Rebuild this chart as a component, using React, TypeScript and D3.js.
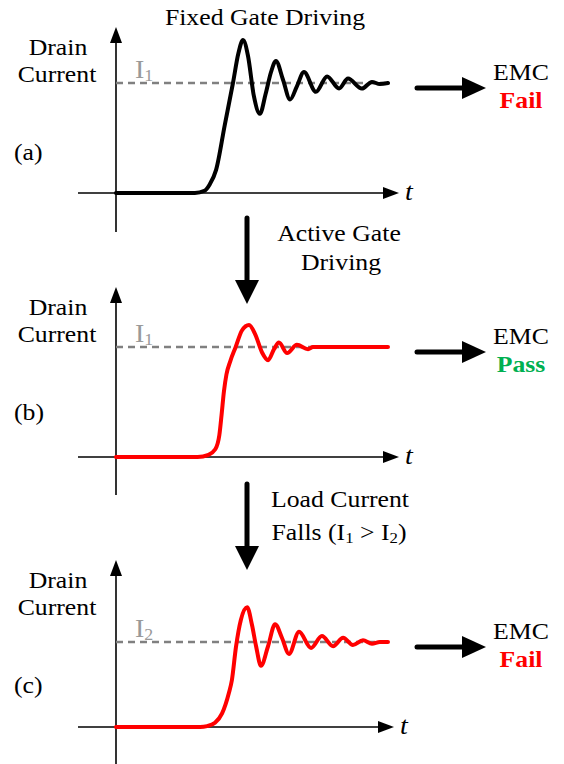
import React from 'react';
import * as d3 from 'd3';

// ---- data (time in arbitrary units 0..100, current normalised to the steady level) ----
const timeA = [0, 29, 32.5, 34.5, 36.8, 40, 43, 45, 46.7, 48.5, 50.7, 52.9, 55, 57, 58.8, 61.4, 64, 66.5, 69.1, 73.5, 77.6, 82, 85.3, 90.4, 94.1, 97, 100];
const currentA = [0, 0, 0.02, 0.08, 0.21, 0.62, 1.0, 1.27, 1.39, 1.25, 0.88, 0.72, 0.9, 1.1, 1.2, 1.03, 0.85, 0.97, 1.1, 0.92, 1.06, 0.95, 1.04, 0.95, 1.01, 0.99, 1.0];

const timeB = [0, 30, 34, 36.5, 38, 38.8, 39.7, 40.6, 42, 44, 46.3, 48.9, 51.1, 53.7, 55.9, 58.1, 59.9, 62.9, 66.5, 70.6, 72.4, 100];
const currentB = [0, 0, 0.02, 0.07, 0.2, 0.38, 0.6, 0.75, 0.87, 1.0, 1.15, 1.2, 1.12, 0.95, 0.88, 0.98, 1.04, 0.945, 1.02, 0.98, 1.0, 1.0];

const timeC = [0, 30.9, 33.5, 36.4, 39, 41.5, 42.6, 44.1, 45.9, 48.2, 50, 51.5, 53.3, 55.9, 58.5, 61, 63.6, 67.3, 71.7, 75.7, 79.8, 83.5, 87.1, 90.8, 94.1, 97, 100];
const currentC = [0, 0, 0.01, 0.05, 0.16, 0.4, 0.55, 0.94, 1.26, 1.41, 1.2, 0.95, 0.72, 0.95, 1.21, 1.05, 0.86, 1.12, 0.93, 1.07, 0.95, 1.05, 0.965, 1.02, 0.98, 1.0, 1.0];

const panelLabels = ['(a)', '(b)', '(c)'];
const levelSubscripts = ['1', '1', '2'];
const verdicts = ['Fail', 'Pass', 'Fail'];
const curveColors = ['#000000', '#ff0000', '#ff0000'];
const verdictColors = ['#ff0000', '#00b050', '#ff0000'];
const headerLines = [['Fixed Gate Driving'], ['Active Gate', 'Driving'], ['Load Current', 'Falls (I', '1', ' > I', '2', ')']];

// ---- layout ----
const W = 564;
const H = 764;
const FONT = "'Liberation Serif', 'Times New Roman', Times, serif";
const SX = 1.12;

const layouts = [
  { xAxisY: 193, levelY: 83, yTop: 27, yBottom: 232, xEnd: 399 },
  { xAxisY: 457, levelY: 347, yTop: 287, yBottom: 495, xEnd: 399 },
  { xAxisY: 727, levelY: 642, yTop: 560, yBottom: 764, xEnd: 394 },
];
const series = [
  { t: timeA, v: currentA },
  { t: timeB, v: currentB },
  { t: timeC, v: currentC },
];

const AXIS_X = 116;
const X_START = 78;

function Label({ x, y, anchor = 'middle', size = 23, fill = '#000', weight = 'normal', italic = false, children }: any) {
  return (
    <text
      transform={`translate(${x},${y}) scale(${SX},1)`}
      textAnchor={anchor}
      style={{
        fontFamily: FONT,
        fontSize: size,
        fontWeight: weight,
        fontStyle: italic ? 'italic' : 'normal',
      }}
      fill={fill}
    >
      {children}
    </text>
  );
}

function Panel({ i }: { i: number }) {
  const L = layouts[i];
  const x = d3.scaleLinear().domain([0, 100]).range([AXIS_X, 388]);
  const y = d3.scaleLinear().domain([0, 1]).range([L.xAxisY, L.levelY]);
  const data = series[i].t.map((t, k) => [t, series[i].v[k]] as [number, number]);
  const line = d3
    .line<[number, number]>()
    .x((d) => x(d[0]))
    .y((d) => y(d[1]))
    .curve(d3.curveMonotoneX);
  const arrowY = L.levelY + 5;
  const emcX = 521;
  return (
    <g>
      {/* y axis */}
      <line x1={AXIS_X} x2={AXIS_X} y1={L.yTop + 10} y2={L.yBottom} stroke="#000" strokeWidth={1.6} />
      <path d={`M${AXIS_X},${L.yTop} L${AXIS_X - 6},${L.yTop + 16} L${AXIS_X + 6},${L.yTop + 16} Z`} fill="#000" />
      {/* x axis */}
      <line x1={X_START} x2={L.xEnd - 10} y1={L.xAxisY} y2={L.xAxisY} stroke="#000" strokeWidth={1.6} />
      <path d={`M${L.xEnd},${L.xAxisY} L${L.xEnd - 16},${L.xAxisY - 6} L${L.xEnd - 16},${L.xAxisY + 6} Z`} fill="#000" />
      <Label x={L.xEnd + 6} y={L.xAxisY + 7} anchor="start" size={25} italic>t</Label>
      {/* steady level */}
      <line x1={AXIS_X} x2={x(99)} y1={y(1)} y2={y(1)} stroke="#808080" strokeWidth={2.4} strokeDasharray="7,5" />
      <Label x={135} y={L.levelY - 5} anchor="start" size={25} fill="#999999">
        I<tspan style={{ fontSize: 16 }} dy={3}>{levelSubscripts[i]}</tspan>
      </Label>
      {/* curve */}
      <path d={line(data) || ''} fill="none" stroke={curveColors[i]} strokeWidth={4} strokeLinecap="round" strokeLinejoin="round" />
      {/* y label */}
      <Label x={58} y={L.yTop + 28}>Drain</Label>
      <Label x={57} y={L.yTop + 55}>Current</Label>
      <Label x={14} y={L.yTop + 133} anchor="start">{panelLabels[i]}</Label>
      {/* EMC arrow */}
      <line x1={417} x2={465} y1={arrowY} y2={arrowY} stroke="#000" strokeWidth={5} strokeLinecap="round" />
      <path d={`M${486},${arrowY} L${462},${arrowY - 11} L${462},${arrowY + 11} Z`} fill="#000" />
      <Label x={emcX} y={arrowY - 8}>EMC</Label>
      <Label x={emcX} y={arrowY + 20} fill={verdictColors[i]} weight="bold">{verdicts[i]}</Label>
    </g>
  );
}

function DownArrow({ yTop, yTip }: { yTop: number; yTip: number }) {
  const ax = 247;
  return (
    <g>
      <line x1={ax} x2={ax} y1={yTop} y2={yTip - 20} stroke="#000" strokeWidth={5} strokeLinecap="round" />
      <path d={`M${ax},${yTip} L${ax - 12},${yTip - 24} L${ax + 12},${yTip - 24} Z`} fill="#000" />
    </g>
  );
}

export default function App() {
  const h2 = headerLines[2];
  return (
    <svg width={W} height={H} style={{ position: 'absolute', left: 0, top: 0, background: '#fff' }}>
      <rect width={W} height={H} fill="#fff" />
      {[0, 1, 2].map((i) => (
        <Panel key={i} i={i} />
      ))}
      <Label x={265} y={25}>{headerLines[0][0]}</Label>
      <DownArrow yTop={218} yTip={304} />
      <Label x={339} y={241}>{headerLines[1][0]}</Label>
      <Label x={341} y={270}>{headerLines[1][1]}</Label>
      <DownArrow yTop={484} yTip={570} />
      <Label x={340} y={507}>{h2[0]}</Label>
      <Label x={339} y={540}>
        {h2[1]}
        <tspan style={{ fontSize: 15 }} dy={3}>{h2[2]}</tspan>
        <tspan dy={-3}>{h2[3]}</tspan>
        <tspan style={{ fontSize: 15 }} dy={3}>{h2[4]}</tspan>
        <tspan dy={-3}>{h2[5]}</tspan>
      </Label>
    </svg>
  );
}
